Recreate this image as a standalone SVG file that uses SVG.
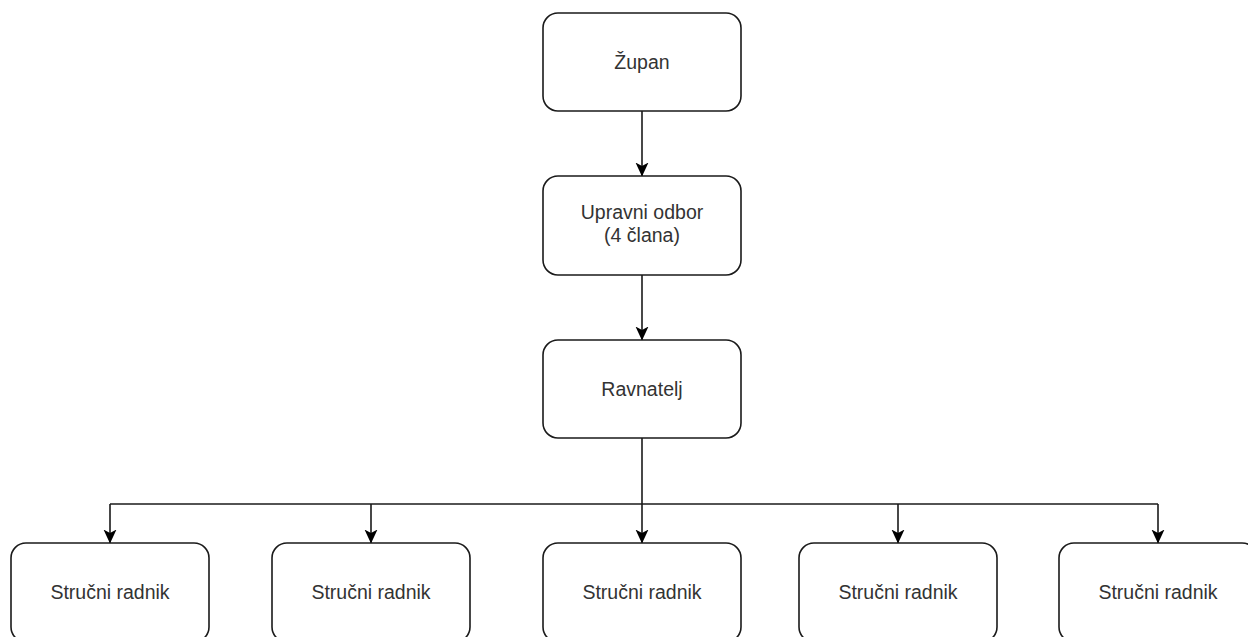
<svg xmlns="http://www.w3.org/2000/svg" width="1248" height="637" viewBox="0 0 1248 637">
<style>
.box{fill:#ffffff;stroke:#1a1a1a;stroke-width:1.6}
.lbl{font-family:"Liberation Sans",Arial,sans-serif;font-size:19.5px;fill:#333333;text-anchor:middle}
.edge{fill:none;stroke:#1a1a1a;stroke-width:1.6}
</style>
<defs>
<marker id="arr" markerUnits="userSpaceOnUse" viewBox="0 0 14 14" refX="13.5" refY="7" markerWidth="14" markerHeight="14" orient="auto">
<path d="M0,0.5 L14,7 L0,13.5 L3.5,7 Z" fill="#000000" stroke="none"/>
</marker>
</defs>
<rect width="1248" height="637" fill="#ffffff"/>
<g id="connectors">
<path class="edge" d="M642,111 V176" marker-end="url(#arr)"/>
<path class="edge" d="M642,275 V340" marker-end="url(#arr)"/>
<path class="edge" d="M642,438 V543" marker-end="url(#arr)"/>
<path class="edge" d="M110,504 H1158"/>
<path class="edge" d="M110,504 V543" marker-end="url(#arr)"/>
<path class="edge" d="M371,504 V543" marker-end="url(#arr)"/>
<path class="edge" d="M898,504 V543" marker-end="url(#arr)"/>
<path class="edge" d="M1158,504 V543" marker-end="url(#arr)"/>
</g>
<g id="zupan">
<rect class="box" x="543" y="13" width="198" height="98" rx="15"/>
<text class="lbl" x="642" y="69">Župan</text>
</g>
<g id="upravni-odbor">
<rect class="box" x="543" y="176" width="198" height="99" rx="15"/>
<text class="lbl" x="642" y="219">Upravni odbor</text>
<text class="lbl" x="642" y="242">(4 člana)</text>
</g>
<g id="ravnatelj">
<rect class="box" x="543" y="340" width="198" height="98" rx="15"/>
<text class="lbl" x="642" y="396">Ravnatelj</text>
</g>
<g id="radnik1">
<rect class="box" x="11" y="543" width="198" height="99" rx="15"/>
<text class="lbl" x="110" y="599">Stručni radnik</text>
</g>
<g id="radnik2">
<rect class="box" x="272" y="543" width="198" height="99" rx="15"/>
<text class="lbl" x="371" y="599">Stručni radnik</text>
</g>
<g id="radnik3">
<rect class="box" x="543" y="543" width="198" height="99" rx="15"/>
<text class="lbl" x="642" y="599">Stručni radnik</text>
</g>
<g id="radnik4">
<rect class="box" x="799" y="543" width="198" height="99" rx="15"/>
<text class="lbl" x="898" y="599">Stručni radnik</text>
</g>
<g id="radnik5">
<rect class="box" x="1059" y="543" width="198" height="99" rx="15"/>
<text class="lbl" x="1158" y="599">Stručni radnik</text>
</g>
</svg>
